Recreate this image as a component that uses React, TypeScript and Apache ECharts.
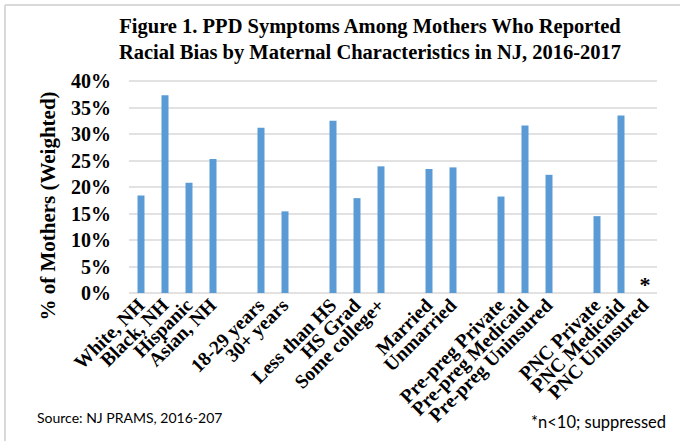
import React, { useEffect, useRef } from "react";
import * as echarts from "echarts";

const categories = [
  "White, NH", "Black, NH", "Hispanic", "Asian, NH", "",
  "18-29 years", "30+ years", " ",
  "Less than HS", "HS Grad", "Some college+", "  ",
  "Married", "Unmarried", "   ",
  "Pre-preg Private", "Pre-preg Medicaid", "Pre-preg Uninsured", "    ",
  "PNC Private", "PNC Medicaid", "PNC Uninsured",
];
const values: (number | null)[] = [
  18.4, 37.3, 20.8, 25.3, null,
  31.2, 15.4, null,
  32.5, 17.9, 23.9, null,
  23.4, 23.7, null,
  18.2, 31.6, 22.3, null,
  14.5, 33.5, null,
];
const suppressed = ["PNC Uninsured"];
const yTicks = { min: 0, max: 40, interval: 5 };

const titleText = "Figure 1. PPD Symptoms Among Mothers Who Reported\nRacial Bias by Maternal Characteristics in NJ, 2016-2017";
const yName = "% of Mothers (Weighted)";
const sourceText = "Source: NJ PRAMS, 2016-207";
const noteText = "*n<10; suppressed";

const SERIF = '"Liberation Serif", "Times New Roman", serif';
const SANS = 'Lato, "Open Sans", sans-serif';

export default function App() {
  const ref = useRef<HTMLDivElement>(null);
  useEffect(() => {
    if (!ref.current) return;
    const chart = echarts.init(ref.current, undefined, { renderer: "svg" });
    const data = categories.map((c, i) => {
      if (suppressed.includes(c)) {
        return {
          value: 0,
          label: {
            show: true,
            position: "top",
            distance: -2,
            formatter: "*",
            fontFamily: SERIF,
            fontWeight: "bold",
            fontSize: 22,
            color: "#000",
          },
        };
      }
      return values[i];
    });
    chart.setOption({
      animation: false,
      backgroundColor: "#fff",
      grid: { left: 129, right: 23, top: 81, bottom: 148, containLabel: false },
      graphic: [
        { type: "line", shape: { x1: 5, y1: 5, x2: 680, y2: 5 }, style: { stroke: "#d9d9d9", lineWidth: 2 } },
        { type: "line", shape: { x1: 5, y1: 5, x2: 5, y2: 441 }, style: { stroke: "#d9d9d9", lineWidth: 2 } },
        {
          type: "text", x: 370, y: 13,
          style: { text: titleText, textAlign: "center", textVerticalAlign: "top", fontFamily: SERIF, fontWeight: "bold", fontSize: 20.5, lineHeight: 26, fill: "#000" },
        },
        {
          type: "text", x: 48, y: 206, rotation: Math.PI / 2,
          style: { text: yName, textAlign: "center", textVerticalAlign: "middle", fontFamily: SERIF, fontWeight: "bold", fontSize: 21, fill: "#000" },
        },
        {
          type: "text", x: 37, y: 417,
          style: { text: sourceText, textAlign: "left", textVerticalAlign: "middle", fontFamily: SANS, fontSize: 14, fill: "#000" },
        },
        {
          type: "text", x: 666, y: 422,
          style: { text: noteText, textAlign: "right", textVerticalAlign: "middle", fontFamily: SANS, fontSize: 16.5, fill: "#000" },
        },
      ],
      xAxis: {
        type: "category",
        data: categories,
        axisLine: { show: false },
        axisTick: { show: false },
        axisLabel: {
          interval: 0,
          rotate: 45,
          margin: 9,
          fontFamily: SERIF,
          fontWeight: "bold",
          fontSize: 19.5,
          color: "#000",
        },
      },
      yAxis: {
        type: "value",
        min: yTicks.min,
        max: yTicks.max,
        interval: yTicks.interval,
        axisLine: { show: false },
        axisTick: { show: false },
        splitLine: { lineStyle: { color: "#d9d9d9", width: 1.5 } },
        axisLabel: {
          formatter: "{value}%",
          margin: 18,
          fontFamily: SERIF,
          fontWeight: "bold",
          fontSize: 20,
          color: "#000",
        },
      },
      series: [
        {
          type: "bar",
          data,
          barWidth: 7,
          itemStyle: { color: "#5b9bd5" },
        },
      ],
    });
    return () => chart.dispose();
  }, []);
  return (
    <div
      ref={ref}
      style={{ position: "fixed", left: 0, top: 0, width: 680, height: 441, background: "#fff" }}
    />
  );
}
